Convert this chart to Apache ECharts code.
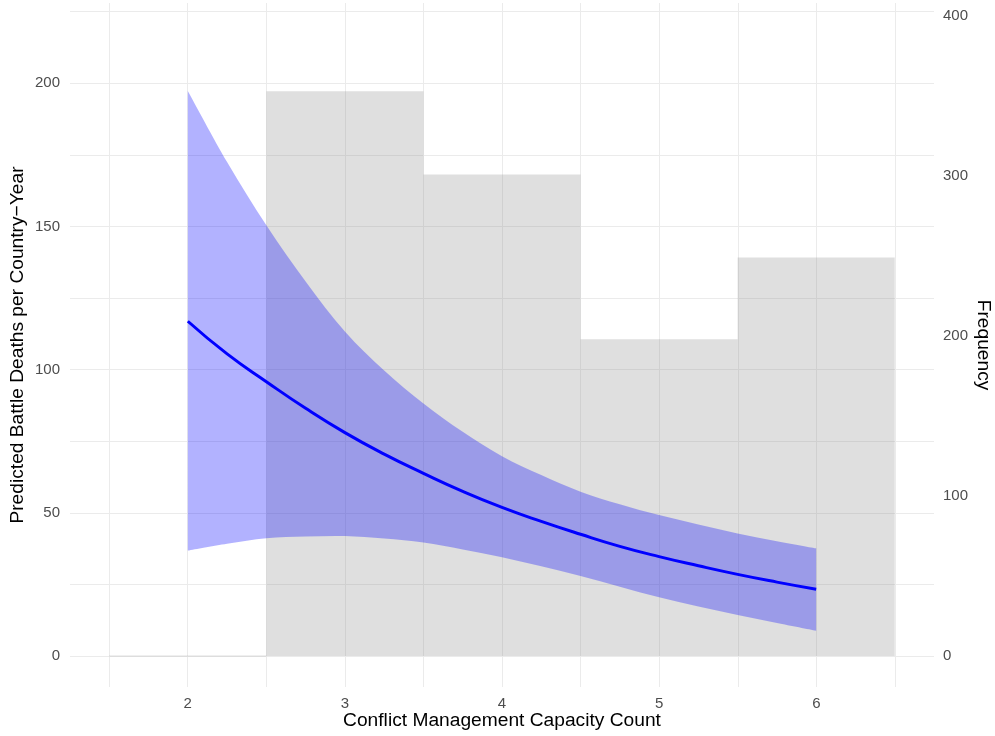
<!DOCTYPE html>
<html>
<head>
<meta charset="utf-8">
<script src="https://cdn.jsdelivr.net/npm/echarts@6/dist/echarts.min.js"></script>
<style>
  html, body { margin: 0; padding: 0; background: #fff; }
  #chart { width: 995px; height: 736px; }
</style>
</head>
<body>
<div id="chart"></div>
<script>
// histogram of conflict management capacity (right axis, frequency)
const binStart = [1.5, 2.5, 3.5, 4.5, 5.5];
const binEnd = [2.5, 3.5, 4.5, 5.5, 6.5];
const binCount = [0, 353, 301, 198, 249];

// predicted battle deaths + confidence band (left axis)
const capacity = [2, 2.25, 2.5, 2.75, 3, 3.25, 3.5, 3.75, 4, 4.25, 4.5, 4.75, 5, 5.25, 5.5, 5.75, 6];
const predicted = [116.9, 105.5, 95.8, 86.5, 78.0, 70.5, 63.8, 57.5, 51.9, 47.0, 42.5, 38.3, 34.7, 31.5, 28.5, 25.8, 23.3];
const lower = [36.8, 39.2, 41.1, 41.7, 41.9, 41.0, 39.6, 37.2, 34.5, 31.3, 27.9, 24.2, 20.5, 17.3, 14.3, 11.5, 8.8];
const upper = [197.3, 172.5, 150.4, 130.8, 113.3, 99.7, 88.2, 78.3, 69.8, 63.2, 57.4, 53.0, 49.2, 45.9, 42.8, 40.1, 37.6];

// tick labels
const xTicks = [2, 3, 4, 5, 6];
const leftTicks = [0, 50, 100, 150, 200];
const rightTicks = [0, 100, 200, 300, 400];

const tickFont = { color: '#4d4d4d', fontSize: 15, fontFamily: 'Liberation Sans, Arial, sans-serif' };
const titleFont = '19.2px "Liberation Sans", Arial, sans-serif';
const gridColor = '#ebebeb';

// smooth path through pixel points (catmull-rom -> bezier)
function curvePath(pts, start) {
  let d = start ? 'M' + pts[0][0] + ',' + pts[0][1] : 'L' + pts[0][0] + ',' + pts[0][1];
  for (let i = 0; i < pts.length - 1; i++) {
    const p0 = pts[Math.max(i - 1, 0)], p1 = pts[i], p2 = pts[i + 1], p3 = pts[Math.min(i + 2, pts.length - 1)];
    const c1 = [p1[0] + (p2[0] - p0[0]) / 6, p1[1] + (p2[1] - p0[1]) / 6];
    const c2 = [p2[0] - (p3[0] - p1[0]) / 6, p2[1] - (p3[1] - p1[1]) / 6];
    d += 'C' + c1[0] + ',' + c1[1] + ' ' + c2[0] + ',' + c2[1] + ' ' + p2[0] + ',' + p2[1];
  }
  return d;
}

const chart = echarts.init(document.getElementById('chart'));

const option = {
  animation: false,
  backgroundColor: '#fff',
  grid: [
    // full panel height, only for vertical grid lines + x labels
    { left: 109, right: 100, top: 3, bottom: 49, outerBoundsMode: 'none' },
    // data panel, 0..225 on the left axis
    { left: 70, right: 61, top: 656 - 225 * 2.8635, bottom: 80, outerBoundsMode: 'none' }
  ],
  xAxis: [
    {
      gridIndex: 0, type: 'value', min: 1.5, max: 6.5, interval: 0.5,
      axisLine: { show: false }, axisTick: { show: false },
      splitLine: { show: true, lineStyle: { color: gridColor, width: 1 } },
      axisLabel: Object.assign({ margin: 9, formatter: v => xTicks.includes(v) ? String(v) : '' }, tickFont)
    },
    { gridIndex: 1, type: 'value', min: 1.25, max: 6.75, show: false }
  ],
  yAxis: [
    { gridIndex: 0, type: 'value', min: 0, max: 1, show: false },
    {
      gridIndex: 1, type: 'value', position: 'left', min: 0, max: 225, interval: 25,
      axisLine: { show: false }, axisTick: { show: false },
      splitLine: { show: true, lineStyle: { color: gridColor, width: 1 } },
      axisLabel: Object.assign({ margin: 10, formatter: v => leftTicks.includes(v) ? String(v) : '' }, tickFont)
    },
    {
      gridIndex: 1, type: 'value', position: 'right', min: 0, max: 225 * 2.8635 / 1.6, interval: 100,
      axisLine: { show: false }, axisTick: { show: false }, splitLine: { show: false },
      axisLabel: Object.assign({ margin: 9, formatter: v => rightTicks.includes(v) ? String(v) : '' }, tickFont)
    }
  ],
  series: [
    {
      type: 'custom',
      xAxisIndex: 1, yAxisIndex: 2,
      silent: true,
      encode: { x: [0, 1], y: 2 },
      data: binStart.map((s, i) => [s, binEnd[i], binCount[i]]),
      renderItem: function (params, api) {
        const p0 = api.coord([api.value(0), 0]);
        const p1 = api.coord([api.value(1), api.value(2)]);
        let h = p0[1] - p1[1];
        let y = p1[1];
        if (h < 1) { h = 1; y = p0[1] - 0.5; }
        return {
          type: 'rect',
          shape: { x: p0[0], y: y, width: p1[0] - p0[0], height: h },
          style: { fill: 'rgba(127,127,127,0.25)' }
        };
      }
    },
    {
      type: 'custom', name: 'band',
      xAxisIndex: 1, yAxisIndex: 1,
      silent: true,
      encode: { x: 0, y: [1, 2] },
      data: capacity.map((x, i) => [x, lower[i], upper[i]]),
      renderItem: function (params, api) {
        if (params.dataIndex !== 0) return null;
        const top = capacity.map((x, i) => api.coord([x, upper[i]]));
        const bot = capacity.map((x, i) => api.coord([x, lower[i]])).reverse();
        const d = curvePath(top, true) + curvePath(bot, false) + 'Z';
        return {
          type: 'path',
          shape: { pathData: d },
          style: { fill: 'rgba(0,0,255,0.3)' }
        };
      }
    },
    {
      type: 'line', name: 'predicted',
      xAxisIndex: 1, yAxisIndex: 1,
      smooth: true, showSymbol: false, silent: true,
      lineStyle: { color: '#0000ff', width: 3 },
      data: capacity.map((x, i) => [x, predicted[i]])
    }
  ],
  graphic: [
    {
      type: 'text', x: 502, y: 721,
      style: { text: 'Conflict Management Capacity Count', font: titleFont, fill: '#000', align: 'center', verticalAlign: 'middle' }
    },
    {
      type: 'text', x: 18, y: 345, rotation: Math.PI / 2,
      style: { text: 'Predicted Battle Deaths per Country\u2212Year', font: titleFont, fill: '#000', align: 'center', verticalAlign: 'middle' }
    },
    {
      type: 'text', x: 983, y: 345, rotation: -Math.PI / 2,
      style: { text: 'Frequency', font: titleFont, fill: '#000', align: 'center', verticalAlign: 'middle' }
    }
  ]
};

chart.setOption(option);
</script>
</body>
</html>
